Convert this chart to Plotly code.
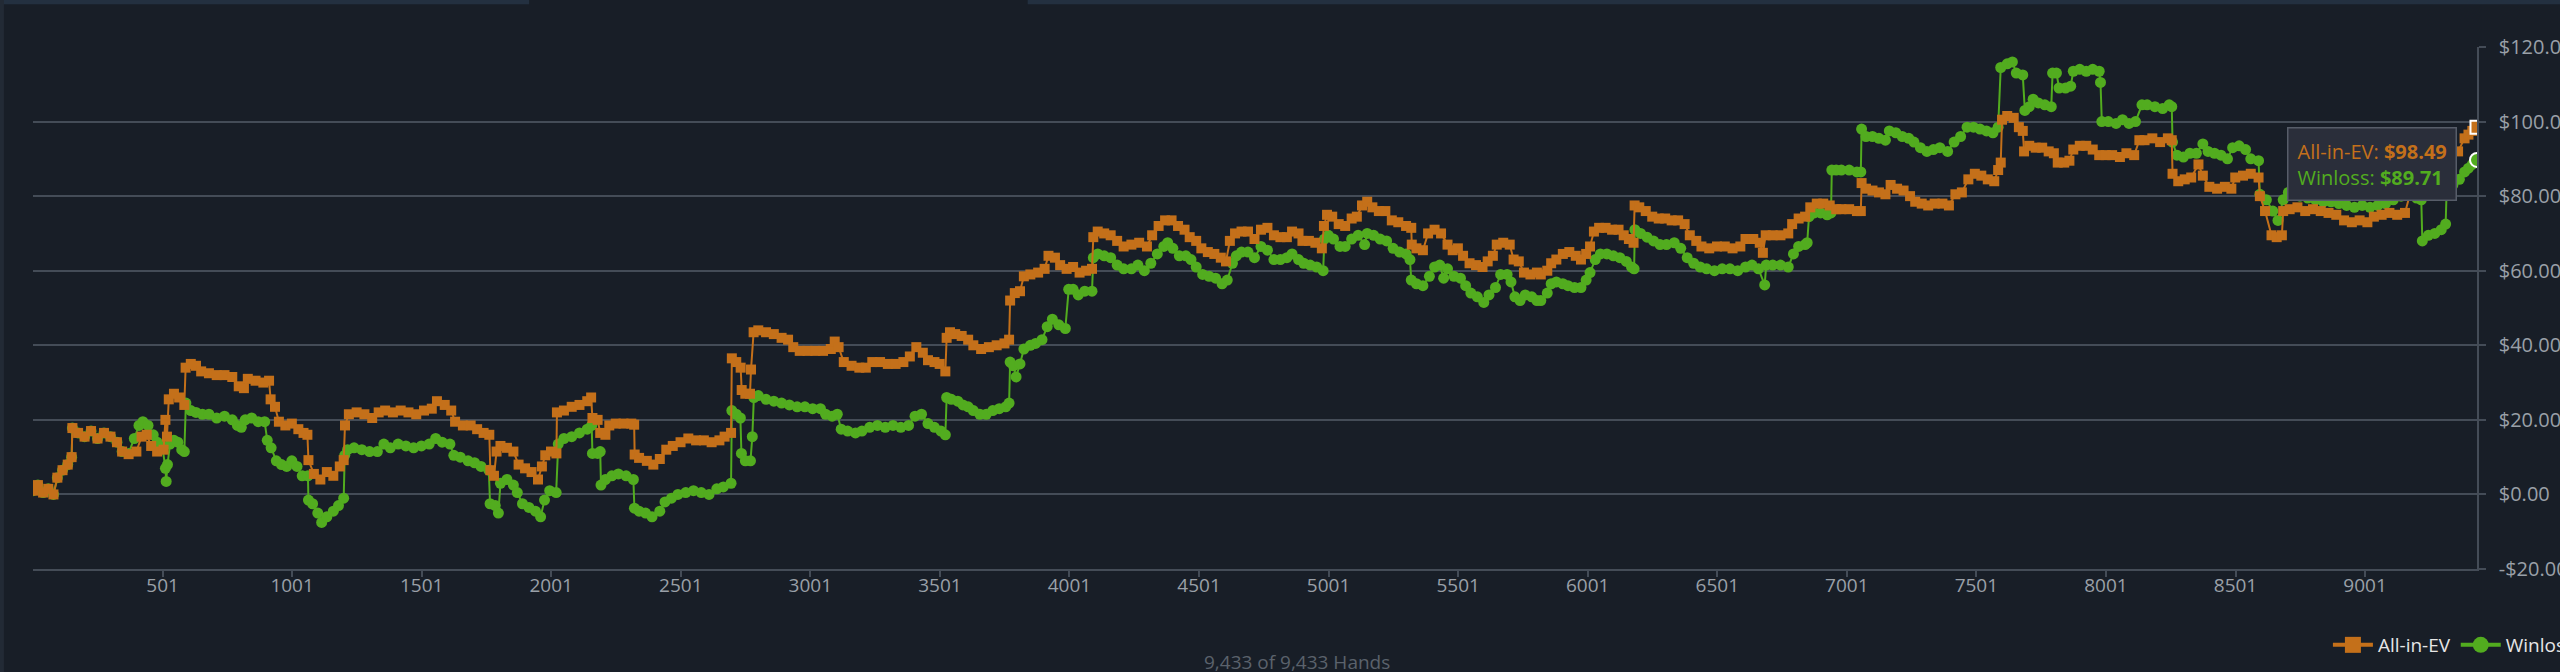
import plotly.graph_objects as go

# ---- data (hand number, running result in $) ----
ev_points = [
    (1, 1.0), (20, 2.5), (40, 0.5), (60, 1.5), (80, 0.0), (95, 4.5), (115, 6.5), (135, 8.0),
    (150, 10.0), (153, 17.8), (175, 16.5), (200, 15.5), (225, 17.0), (250, 15.0), (275, 16.5),
    (300, 15.5), (325, 14.0), (345, 11.5), (370, 10.8), (400, 11.5), (420, 15.5), (440, 16.0),
    (457, 13.0), (480, 11.5), (505, 12.0), (512, 20.0), (518, 15.5), (525, 25.5), (545, 27.0),
    (565, 26.0), (585, 24.0), (590, 34.0), (610, 35.0), (630, 34.5), (650, 33.0), (680, 32.5),
    (710, 32.0), (740, 32.0), (770, 31.5), (795, 29.0), (815, 28.5), (830, 31.0), (860, 30.5),
    (890, 30.0), (912, 30.5), (918, 25.5), (935, 23.5), (950, 19.5), (975, 18.5), (1000, 19.0),
    (1025, 17.5), (1045, 16.5), (1060, 16.0), (1064, 9.2), (1085, 5.5), (1110, 4.0), (1135, 6.0),
    (1160, 5.0), (1185, 7.5), (1200, 9.2), (1205, 18.5), (1220, 21.5), (1250, 22.0), (1280, 21.5),
    (1310, 20.5), (1335, 22.0), (1360, 22.5), (1390, 22.0), (1420, 22.5), (1450, 22.0),
    (1480, 21.5), (1510, 22.5), (1540, 23.0), (1560, 25.0), (1590, 24.0), (1615, 22.5),
    (1630, 19.5), (1660, 18.5), (1690, 18.5), (1715, 17.5), (1740, 16.5), (1762, 16.0),
    (1766, 6.5), (1780, 5.0), (1790, 11.5), (1805, 13.0), (1830, 12.5), (1855, 11.5), (1875, 8.0),
    (1900, 7.0), (1925, 6.0), (1950, 4.0), (1965, 7.5), (1978, 10.5), (2000, 11.5), (2021, 11.0),
    (2023, 22.0), (2050, 22.5), (2080, 23.5), (2110, 24.0), (2140, 25.0), (2155, 26.0),
    (2160, 20.5), (2180, 20.0), (2190, 16.5), (2210, 16.0), (2225, 18.5), (2250, 19.0),
    (2280, 19.0), (2310, 19.0), (2321, 18.7), (2323, 10.7), (2340, 9.8), (2370, 9.0), (2395, 8.0),
    (2420, 9.5), (2445, 12.0), (2470, 13.0), (2500, 14.0), (2530, 15.0), (2560, 14.5),
    (2590, 14.5), (2620, 14.0), (2650, 14.5), (2670, 15.5), (2695, 16.5), (2698, 36.5),
    (2715, 35.5), (2732, 34.0), (2736, 28.0), (2750, 27.0), (2768, 27.0), (2772, 33.5),
    (2782, 43.5), (2800, 44.0), (2830, 43.5), (2860, 43.0), (2890, 42.0), (2915, 41.5),
    (2935, 39.5), (2960, 38.5), (2990, 38.5), (3020, 38.5), (3050, 38.5), (3080, 39.0),
    (3095, 41.0), (3110, 39.5), (3130, 35.5), (3160, 34.5), (3190, 34.0), (3215, 34.0),
    (3240, 35.5), (3270, 35.5), (3300, 35.0), (3330, 35.0), (3360, 35.5), (3385, 37.0),
    (3410, 39.5), (3435, 38.0), (3455, 36.0), (3480, 35.5), (3500, 35.0), (3522, 33.0),
    (3527, 42.0), (3540, 43.5), (3560, 43.0), (3585, 42.5), (3610, 41.5), (3630, 40.0),
    (3660, 39.0), (3690, 39.5), (3720, 40.0), (3750, 40.5), (3768, 41.5), (3772, 52.0),
    (3790, 54.0), (3810, 54.5), (3825, 58.5), (3850, 59.0), (3880, 59.5), (3905, 60.5),
    (3920, 64.0), (3945, 63.5), (3965, 61.5), (3990, 60.5), (4015, 61.0), (4040, 59.5),
    (4065, 60.0), (4088, 60.5), (4093, 69.0), (4110, 70.5), (4135, 70.0), (4160, 69.5),
    (4185, 68.0), (4210, 66.5), (4240, 67.0), (4270, 67.5), (4300, 66.5), (4320, 69.5),
    (4345, 72.0), (4370, 73.5), (4395, 73.5), (4420, 72.0), (4445, 71.0), (4465, 69.0),
    (4490, 68.0), (4510, 66.0), (4535, 65.0), (4560, 64.5), (4585, 63.5), (4605, 62.5),
    (4620, 68.0), (4640, 70.0), (4665, 70.5), (4690, 70.5), (4715, 68.5), (4740, 71.0),
    (4765, 71.5), (4790, 69.5), (4815, 69.0), (4840, 69.0), (4860, 70.5), (4885, 70.0),
    (4900, 68.0), (4925, 68.0), (4950, 67.5), (4975, 66.0), (4983, 72.0), (4995, 75.0),
    (5015, 74.5), (5040, 72.5), (5065, 72.0), (5090, 74.0), (5110, 74.5), (5130, 77.5),
    (5150, 78.5), (5170, 77.0), (5195, 76.0), (5220, 76.0), (5245, 73.5), (5270, 73.0),
    (5300, 72.0), (5320, 71.5), (5322, 67.0), (5340, 66.0), (5365, 65.5), (5385, 70.0),
    (5410, 71.0), (5435, 70.0), (5460, 67.0), (5480, 65.5), (5500, 66.0), (5520, 64.0),
    (5545, 62.0), (5570, 61.5), (5595, 61.0), (5615, 62.5), (5635, 64.0), (5650, 67.0),
    (5675, 67.5), (5700, 67.0), (5715, 63.0), (5735, 62.5), (5755, 59.5), (5780, 59.0),
    (5805, 59.5), (5820, 59.0), (5845, 60.0), (5860, 62.0), (5880, 63.0), (5905, 64.5),
    (5930, 65.0), (5955, 64.0), (5975, 63.0), (5995, 64.5), (6010, 66.5), (6025, 70.5),
    (6045, 71.5), (6070, 71.5), (6095, 71.0), (6120, 71.0), (6140, 69.5), (6160, 68.5),
    (6178, 67.5), (6182, 77.5), (6200, 77.0), (6225, 76.0), (6250, 74.5), (6275, 74.0),
    (6300, 74.0), (6325, 73.5), (6350, 73.5), (6375, 72.5), (6395, 69.5), (6420, 68.0),
    (6440, 66.5), (6470, 66.0), (6500, 66.5), (6530, 66.5), (6560, 66.0), (6590, 66.5),
    (6610, 68.5), (6640, 68.5), (6665, 67.5), (6677, 64.8), (6688, 69.5), (6715, 69.5),
    (6745, 69.5), (6775, 70.0), (6790, 72.5), (6815, 74.0), (6840, 74.5), (6860, 77.0),
    (6885, 78.0), (6910, 78.0), (6935, 77.5), (6960, 76.5), (6980, 76.5), (7010, 76.5),
    (7040, 76.0), (7055, 76.0), (7058, 83.5), (7075, 82.0), (7100, 81.5), (7125, 81.0),
    (7150, 80.5), (7170, 83.0), (7195, 82.0), (7220, 81.5), (7245, 80.0), (7265, 78.5),
    (7290, 78.0), (7315, 77.5), (7340, 78.0), (7370, 78.0), (7395, 77.5), (7420, 80.5),
    (7445, 81.0), (7470, 84.5), (7495, 86.0), (7520, 85.5), (7545, 84.5), (7570, 84.0),
    (7585, 87.0), (7595, 89.0), (7600, 100.5), (7620, 101.5), (7645, 101.0), (7665, 98.5),
    (7680, 97.5), (7685, 92.0), (7705, 93.5), (7730, 93.0), (7755, 93.0), (7780, 92.0),
    (7800, 91.5), (7815, 89.0), (7840, 89.0), (7860, 89.5), (7875, 92.5), (7900, 93.5),
    (7925, 93.5), (7950, 92.5), (7975, 91.0), (8000, 91.0), (8025, 91.0), (8055, 90.5),
    (8080, 91.5), (8110, 91.0), (8130, 95.0), (8150, 95.0), (8180, 95.5), (8210, 94.5),
    (8240, 95.5), (8255, 95.0), (8258, 86.0), (8280, 84.0), (8305, 84.5), (8330, 85.0),
    (8358, 88.5), (8375, 85.5), (8400, 82.5), (8430, 82.0), (8460, 82.5), (8485, 82.0),
    (8500, 85.0), (8530, 85.5), (8560, 86.0), (8590, 85.0), (8595, 80.0), (8615, 76.0),
    (8640, 69.5), (8660, 69.0), (8680, 69.5), (8685, 76.0), (8710, 76.5), (8740, 77.0),
    (8770, 76.0), (8800, 76.5), (8830, 76.0), (8860, 75.5), (8890, 75.0), (8920, 73.5),
    (8950, 73.0), (8980, 73.5), (9010, 73.0), (9035, 74.5), (9065, 75.0), (9095, 75.5),
    (9125, 75.0), (9155, 75.5), (9180, 82.0), (9210, 84.0), (9240, 85.0), (9270, 86.5),
    (9300, 88.0), (9330, 90.0), (9360, 92.0), (9385, 95.5), (9400, 96.5), (9415, 97.5),
    (9433, 98.49),
]

wl_points = [
    (1, 1.0), (20, 2.5), (40, 0.5), (60, 1.5), (80, 0.0), (95, 4.5), (115, 6.5), (135, 8.0),
    (150, 10.0), (153, 17.8), (175, 16.5), (200, 15.5), (225, 17.0), (250, 15.0), (275, 16.5),
    (300, 15.5), (325, 14.0), (345, 11.5), (370, 11.0), (392, 15.0), (410, 18.5), (425, 19.5),
    (445, 18.5), (465, 16.0), (480, 14.0), (500, 13.0), (512, 7.0), (515, 3.5), (520, 8.0),
    (530, 13.5), (545, 14.5), (560, 14.0), (575, 12.0), (585, 11.5), (591, 24.5), (610, 22.5),
    (630, 22.0), (655, 21.5), (680, 21.5), (710, 20.5), (740, 21.0), (770, 20.0), (790, 18.5),
    (805, 18.0), (820, 20.0), (845, 20.5), (870, 19.5), (895, 19.5), (905, 14.5), (920, 12.5),
    (940, 9.0), (960, 8.0), (980, 7.5), (1000, 9.0), (1020, 7.5), (1040, 5.0), (1062, 5.0),
    (1064, -1.5), (1080, -2.5), (1100, -5.0), (1115, -7.5), (1135, -6.0), (1160, -4.5),
    (1180, -3.0), (1200, -1.0), (1204, 10.5), (1215, 12.0), (1240, 12.5), (1270, 12.0),
    (1300, 11.5), (1330, 11.5), (1355, 13.5), (1380, 12.5), (1410, 13.5), (1440, 13.0),
    (1470, 12.5), (1500, 13.0), (1530, 13.5), (1555, 15.0), (1580, 14.0), (1610, 13.5),
    (1625, 10.5), (1650, 10.0), (1680, 9.0), (1705, 8.5), (1730, 7.5), (1760, 6.5),
    (1765, -2.5), (1785, -3.0), (1797, -5.0), (1805, 3.0), (1830, 4.0), (1855, 2.5),
    (1870, 0.5), (1890, -2.5), (1915, -3.5), (1940, -4.5), (1960, -6.0), (1975, -1.5),
    (1995, 1.0), (2020, 0.5), (2028, 13.5), (2050, 15.0), (2080, 15.5), (2110, 16.5),
    (2140, 17.5), (2157, 18.5), (2160, 11.0), (2180, 11.0), (2190, 11.5), (2193, 2.5),
    (2210, 4.0), (2235, 5.0), (2260, 5.5), (2290, 5.0), (2318, 4.0), (2322, -3.7),
    (2340, -4.5), (2365, -5.0), (2390, -6.0), (2420, -4.5), (2440, -2.0), (2465, -1.0),
    (2490, 0.0), (2520, 0.5), (2550, 1.0), (2580, 0.5), (2610, 0.0), (2640, 1.5), (2665, 2.0),
    (2695, 3.0), (2698, 22.5), (2715, 21.5), (2731, 20.5), (2735, 11.0), (2750, 9.0),
    (2770, 9.0), (2777, 15.5), (2783, 26.0), (2800, 26.5), (2830, 25.5), (2860, 25.0),
    (2890, 24.5), (2920, 24.0), (2950, 23.5), (2980, 23.5), (3010, 23.0), (3040, 23.0),
    (3060, 21.5), (3085, 21.0), (3105, 21.5), (3120, 17.5), (3145, 17.0), (3175, 16.5),
    (3200, 17.0), (3230, 18.0), (3260, 18.5), (3290, 18.0), (3320, 18.5), (3350, 18.0),
    (3380, 18.5), (3405, 21.0), (3430, 21.5), (3455, 19.0), (3480, 18.0), (3505, 17.0),
    (3522, 16.0), (3527, 26.0), (3545, 25.5), (3570, 25.0), (3590, 24.0), (3610, 23.5),
    (3630, 22.5), (3655, 21.5), (3680, 21.5), (3705, 22.5), (3730, 23.0), (3755, 23.5),
    (3768, 24.5), (3772, 35.5), (3785, 34.5), (3795, 31.5), (3810, 35.0), (3825, 39.0),
    (3850, 40.0), (3870, 40.5), (3895, 41.5), (3915, 45.0), (3935, 47.0), (3960, 45.5),
    (3985, 44.5), (3998, 55.0), (4015, 55.0), (4035, 53.5), (4060, 54.5), (4088, 54.5),
    (4093, 63.5), (4110, 64.5), (4135, 64.0), (4160, 63.5), (4185, 61.5), (4210, 60.5),
    (4240, 60.5), (4265, 61.5), (4290, 60.0), (4315, 62.0), (4340, 64.5), (4365, 66.5),
    (4380, 67.5), (4400, 66.0), (4425, 64.0), (4450, 64.0), (4470, 63.0), (4490, 61.0),
    (4515, 59.0), (4540, 58.5), (4565, 58.0), (4590, 56.5), (4610, 57.5), (4630, 62.0),
    (4645, 64.0), (4665, 65.0), (4690, 65.0), (4715, 63.5), (4740, 66.5), (4765, 65.5),
    (4790, 63.0), (4815, 63.0), (4840, 63.5), (4860, 64.5), (4885, 63.0), (4905, 62.0),
    (4930, 61.5), (4955, 61.0), (4980, 60.0), (4985, 68.5), (5000, 69.5), (5020, 68.5),
    (5045, 66.5), (5065, 66.5), (5090, 68.5), (5115, 69.5), (5140, 67.0), (5150, 70.0),
    (5175, 69.5), (5200, 68.5), (5225, 68.0), (5250, 66.0), (5275, 65.0), (5300, 64.5),
    (5315, 63.0), (5320, 57.5), (5340, 56.5), (5365, 56.0), (5390, 58.5), (5410, 61.0),
    (5430, 61.5), (5445, 58.0), (5460, 60.5), (5485, 58.5), (5510, 58.0), (5530, 56.0),
    (5550, 54.0), (5575, 53.0), (5600, 51.5), (5620, 53.5), (5645, 55.5), (5665, 59.0),
    (5690, 59.0), (5705, 57.0), (5720, 53.0), (5740, 52.0), (5760, 53.5), (5785, 53.0),
    (5805, 52.0), (5820, 52.0), (5845, 54.0), (5860, 56.5), (5880, 57.0), (5905, 56.5),
    (5925, 56.0), (5950, 55.5), (5975, 55.5), (5995, 57.5), (6010, 59.5), (6030, 63.0),
    (6050, 64.5), (6075, 64.5), (6100, 64.0), (6125, 63.5), (6150, 62.5), (6170, 61.0),
    (6180, 60.5), (6183, 71.0), (6205, 70.0), (6230, 69.0), (6255, 68.0), (6280, 67.0),
    (6305, 67.0), (6335, 67.5), (6360, 66.0), (6385, 63.5), (6410, 62.0), (6435, 61.0),
    (6460, 60.5), (6490, 60.0), (6520, 60.5), (6550, 60.5), (6580, 60.0), (6610, 61.0),
    (6635, 61.5), (6660, 60.5), (6684, 56.2), (6690, 61.5), (6715, 61.5), (6745, 61.5),
    (6775, 61.0), (6795, 64.5), (6815, 66.5), (6840, 67.0), (6848, 67.5), (6855, 74.5),
    (6875, 75.5), (6900, 75.5), (6925, 75.0), (6940, 75.5), (6943, 87.0), (6960, 87.0),
    (6980, 87.0), (7010, 87.0), (7040, 86.5), (7055, 86.5), (7058, 98.0), (7075, 96.0),
    (7100, 96.0), (7125, 95.5), (7150, 95.0), (7165, 97.5), (7190, 97.0), (7215, 96.0),
    (7240, 95.5), (7260, 94.5), (7285, 93.0), (7310, 92.0), (7335, 92.5), (7360, 93.0),
    (7390, 92.0), (7415, 94.5), (7440, 96.0), (7465, 98.5), (7490, 98.5), (7515, 98.0),
    (7540, 97.5), (7565, 97.0), (7585, 98.5), (7595, 114.5), (7620, 115.5), (7640, 116.0),
    (7655, 113.0), (7680, 112.5), (7688, 103.0), (7705, 104.0), (7720, 106.0), (7740, 105.0),
    (7765, 104.5), (7790, 104.0), (7795, 113.0), (7810, 113.0), (7820, 109.0), (7845, 109.0),
    (7865, 109.5), (7875, 113.5), (7900, 114.0), (7925, 113.5), (7950, 114.0), (7975, 113.5),
    (7980, 110.5), (7985, 100.0), (8010, 100.0), (8040, 99.5), (8065, 100.5), (8090, 99.5),
    (8115, 100.0), (8140, 104.5), (8160, 104.5), (8190, 104.0), (8220, 103.5), (8245, 104.5),
    (8255, 104.0), (8258, 94.5), (8275, 91.0), (8300, 90.5), (8325, 91.5), (8350, 91.5),
    (8375, 94.0), (8395, 92.0), (8420, 91.5), (8445, 91.0), (8470, 90.0), (8490, 93.0),
    (8515, 93.5), (8540, 92.5), (8560, 90.0), (8590, 89.5), (8595, 80.5), (8620, 79.0),
    (8645, 76.0), (8665, 73.5), (8685, 79.0), (8705, 81.0), (8725, 82.0), (8750, 80.0),
    (8780, 79.5), (8810, 79.0), (8840, 78.5), (8870, 78.5), (8900, 78.0), (8930, 77.5),
    (8960, 77.0), (8990, 77.5), (9020, 77.0), (9050, 77.5), (9080, 78.0), (9110, 79.0),
    (9140, 80.0), (9170, 80.5), (9200, 79.5), (9218, 79.0), (9222, 68.0), (9245, 69.5),
    (9270, 70.0), (9295, 71.0), (9312, 72.5), (9316, 82.0), (9340, 83.0), (9365, 84.5),
    (9385, 86.5), (9400, 87.5), (9415, 88.5), (9433, 89.71),
]

x_ticks = [501, 1001, 1501, 2001, 2501, 3001, 3501, 4001, 4501, 5001,
           5501, 6001, 6501, 7001, 7501, 8001, 8501, 9001]
y_ticks = [-20, 0, 20, 40, 60, 80, 100, 120]
y_labels = ["-$20.00", "$0.00", "$20.00", "$40.00", "$60.00", "$80.00", "$100.00", "$120.00"]
total_hands = 9433

ev_hands, ev_usd = zip(*ev_points)
wl_hands, wl_usd = zip(*wl_points)

ORANGE = "#c4701a"
GREEN = "#52ac1f"
BG = "#181e27"
GRID = "#444c57"
TICK = "#9aa0a8"
FONT = "Open Sans"

fig = go.Figure()

# winloss drawn first so the EV line sits on top where they overlap
fig.add_trace(go.Scatter(
    x=wl_hands, y=wl_usd, mode="lines+markers", name="Winloss", showlegend=False,
    line=dict(color=GREEN, width=2),
    marker=dict(symbol="circle", size=11, color=GREEN, line=dict(width=0)),
))
fig.add_trace(go.Scatter(
    x=ev_hands, y=ev_usd, mode="lines+markers", name="All-in-EV", showlegend=False,
    line=dict(color=ORANGE, width=2),
    marker=dict(symbol="square", size=10, color=ORANGE, line=dict(width=0)),
))

# highlighted (hovered) last points
fig.add_trace(go.Scatter(
    x=[ev_hands[-1]], y=[ev_usd[-1]], mode="markers", showlegend=False,
    marker=dict(symbol="square", size=13, color=ORANGE, line=dict(color="white", width=2)),
))
fig.add_trace(go.Scatter(
    x=[wl_hands[-1]], y=[wl_usd[-1]], mode="markers", showlegend=False,
    marker=dict(symbol="circle", size=14, color=GREEN, line=dict(color="white", width=2)),
))

# legend entries
fig.add_trace(go.Scatter(
    x=[None], y=[None], mode="lines+markers", name="All-in-EV",
    line=dict(color=ORANGE, width=4),
    marker=dict(symbol="square", size=16, color=ORANGE),
))
fig.add_trace(go.Scatter(
    x=[None], y=[None], mode="lines+markers", name="Winloss",
    line=dict(color=GREEN, width=4),
    marker=dict(symbol="circle", size=17, color=GREEN),
))

tip = (f"<span style='color:{ORANGE}'>All-in-EV: <b>${ev_usd[-1]:.2f}</b></span><br>"
       f"<span style='color:{GREEN}'>Winloss: <b>${wl_usd[-1]:.2f}</b></span>")

fig.update_layout(
    width=2560, height=672,
    margin=dict(l=33, r=83, t=47, b=103, autoexpand=False),
    paper_bgcolor=BG, plot_bgcolor=BG,
    font=dict(family=FONT, size=19, color=TICK),
    xaxis=dict(
        range=[1, total_hands], tickvals=x_ticks, showgrid=False, zeroline=False,
        showline=True, linecolor=GRID, linewidth=1.5, automargin=False,
        ticks="outside", ticklen=6, tickcolor=GRID, tickwidth=1.5,
        ticklabelstandoff=-8,
        tickfont=dict(family=FONT, size=19, color=TICK),
    ),
    yaxis=dict(
        range=[-20, 120], side="right", tickvals=y_ticks, ticktext=y_labels,
        showgrid=True, gridcolor=GRID, gridwidth=1.5, zeroline=False,
        showline=True, linecolor=GRID, linewidth=1.5, automargin=False,
        ticks="outside", ticklen=7, tickcolor=GRID, tickwidth=1.5,
        ticklabelstandoff=9,
        tickfont=dict(family=FONT, size=20, color=TICK),
    ),
    legend=dict(
        orientation="h", x=0.939, y=-0.1456, xanchor="left", yanchor="middle",
        font=dict(family=FONT, size=19, color="#e6e6e6"), bgcolor="rgba(0,0,0,0)",
        itemwidth=40,
    ),
    annotations=[
        dict(text=tip, x=9028, y=88.5, xref="x", yref="y", showarrow=False,
             font=dict(family=FONT, size=20), align="left",
             bgcolor="#2a2e3a", bordercolor="#575d69", borderwidth=1.5, borderpad=9),
        dict(text=f"{total_hands:,} of {total_hands:,} Hands", x=0.517, y=-0.178,
             xref="paper", yref="paper", showarrow=False, yanchor="middle",
             font=dict(family=FONT, size=19, color="#5b626c")),
    ],
    shapes=[
        dict(type="rect", xref="paper", yref="paper", x0=-0.02, x1=0.203, y0=1.082, y1=1.1,
             fillcolor="#233040", line=dict(width=0), layer="below"),
        dict(type="rect", xref="paper", yref="paper", x0=0.407, x1=1.05, y0=1.082, y1=1.1,
             fillcolor="#233040", line=dict(width=0), layer="below"),
        dict(type="rect", xref="paper", yref="paper", x0=-0.02, x1=-0.0119, y0=-0.3, y1=1.1,
             fillcolor="#222a35", line=dict(width=0), layer="below"),
    ],
)

fig.write_html(
    "out.html",
    config={"displayModeBar": False},
    post_script="document.body.style.margin='0';document.body.style.background='#181e27';",
)
